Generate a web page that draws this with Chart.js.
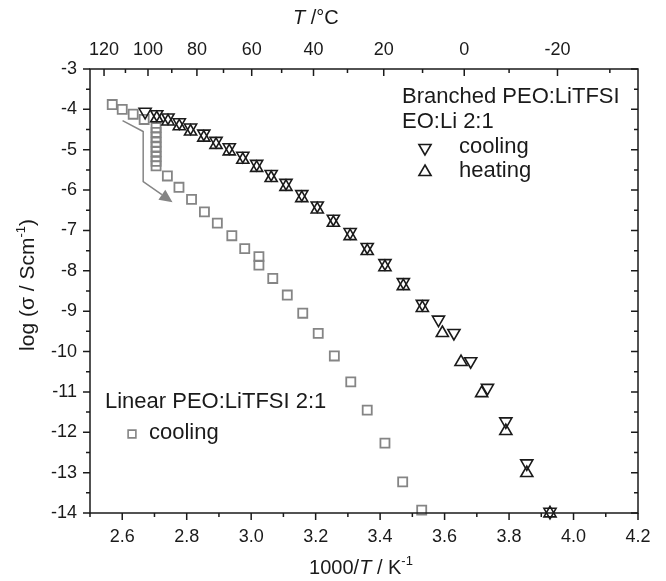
<!DOCTYPE html>
<html>
<head>
<meta charset="utf-8">
<script src="https://cdn.jsdelivr.net/npm/chart.js@4.4.1/dist/chart.umd.min.js"></script>
<style>
  body { margin: 0; background: #fff; }
  #wrap { width: 666px; height: 581px; position: relative; }
</style>
</head>
<body>
<div id="wrap"><canvas id="myChart"></canvas></div>
<script>
// linear PEO:LiTFSI 2:1, cooling (squares)
var linearX = [2.569, 2.600, 2.634, 2.668,
               2.705, 2.705, 2.705, 2.705, 2.705, 2.705, 2.705, 2.705, 2.705,
               2.740, 2.776, 2.815, 2.855, 2.895, 2.940, 2.980, 3.024, 3.024,
               3.067, 3.112, 3.160, 3.208, 3.258, 3.309, 3.360, 3.415, 3.470, 3.529];
var linearY = [-3.88, -4.00, -4.12, -4.25,
               -4.45, -4.57, -4.69, -4.81, -4.93, -5.05, -5.17, -5.29, -5.40,
               -5.65, -5.93, -6.23, -6.54, -6.82, -7.13, -7.45, -7.65, -7.86,
               -8.19, -8.60, -9.05, -9.55, -10.11, -10.75, -11.45, -12.27, -13.23, -13.93];

// branched PEO:LiTFSI, cooling (down triangles)
var coolX = [2.671, 2.707, 2.742, 2.777, 2.812, 2.853, 2.891, 2.932, 2.974, 3.017, 3.062,
             3.108, 3.157, 3.205, 3.255, 3.307, 3.360, 3.415, 3.472, 3.531, 3.581, 3.629,
             3.681, 3.733, 3.790, 3.855, 3.927];
var coolY = [-4.06, -4.12, -4.20, -4.32, -4.45, -4.60, -4.78, -4.94, -5.15, -5.35, -5.60,
             -5.82, -6.10, -6.38, -6.71, -7.04, -7.41, -7.81, -8.28, -8.82, -9.21, -9.54,
             -10.24, -10.90, -11.73, -12.77, -13.97];

// branched PEO:LiTFSI, heating (up triangles)
var heatX = [2.707, 2.742, 2.777, 2.812, 2.853, 2.891, 2.932, 2.974, 3.017, 3.062,
             3.108, 3.157, 3.205, 3.255, 3.307, 3.360, 3.415, 3.472, 3.531, 3.593,
             3.651, 3.715, 3.790, 3.855, 3.927];
var heatY = [-4.22, -4.30, -4.42, -4.55, -4.70, -4.88, -5.04, -5.25, -5.45, -5.70,
             -5.92, -6.20, -6.48, -6.81, -7.14, -7.51, -7.91, -8.38, -8.92, -9.54,
             -10.26, -11.03, -11.97, -13.01, -14.01];

// top axis in degrees C
var topTicksC = [120, 110, 100, 90, 80, 70, 60, 50, 40, 30, 20, 10, 0, -10, -20, -30];
var topLabelsC = [120, 100, 80, 60, 40, 20, 0, -20];

// arrow path (data coords)
var arrowX = [2.601, 2.665, 2.665, 2.756];
var arrowY = [-4.28, -4.55, -5.79, -6.30];

var FONT = 'Liberation Sans, Arial, Helvetica, sans-serif';
var INK = '#1a1a1a';
var GREY = '#858585';

function toInv(c) { return 1000 / (c + 273.15); }
function toC(v) { return Math.round(1000 / v - 273.15); }
function pts(xs, ys) { return xs.map(function (x, i) { return { x: x, y: ys[i] }; }); }
function isWhole(v) { return Math.abs(v - Math.round(v)) < 1e-6; }
function isEvenTenth(v) { var t = Math.round(v * 10); return Math.abs(v * 10 - t) < 1e-6 && t % 2 === 0; }

// draws a row of text pieces with their own fonts / offsets
function drawRuns(ctx, runs, x, y, align) {
  var total = 0;
  runs.forEach(function (r) { ctx.font = r.font; r.w = ctx.measureText(r.text).width; total += r.w; });
  var cx = align === 'center' ? x - total / 2 : x;
  ctx.textAlign = 'left';
  ctx.textBaseline = 'middle';
  runs.forEach(function (r) {
    ctx.font = r.font;
    ctx.fillText(r.text, cx, y + (r.dy || 0));
    cx += r.w;
  });
}

function marker(ctx, style, rot, r, x, y, color, lw) {
  ctx.save();
  ctx.strokeStyle = color;
  ctx.fillStyle = 'rgba(0,0,0,0)';
  ctx.lineWidth = lw;
  Chart.helpers.drawPoint(ctx, { pointStyle: style, rotation: rot, radius: r, borderWidth: lw }, x, y);
  ctx.restore();
}

var decorations = {
  id: 'decorations',
  afterDatasetsDraw: function (chart) {
    var ctx = chart.ctx, a = chart.chartArea;
    var sx = chart.scales.x, sy = chart.scales.y, st = chart.scales.x2;
    ctx.save();

    // frame + tick marks
    ctx.strokeStyle = INK;
    ctx.lineWidth = 1.5;
    ctx.strokeRect(a.left, a.top, a.right - a.left, a.bottom - a.top);
    ctx.beginPath();
    sx.ticks.forEach(function (t) {
      var px = sx.getPixelForValue(t.value);
      var len = isEvenTenth(t.value) ? 7 : 4;
      ctx.moveTo(px, a.bottom); ctx.lineTo(px, a.bottom + len);
    });
    sy.ticks.forEach(function (t) {
      var py = sy.getPixelForValue(t.value);
      var len = isWhole(t.value) ? 7 : 4;
      ctx.moveTo(a.left - len, py); ctx.lineTo(a.left, py);
      ctx.moveTo(a.right, py); ctx.lineTo(a.right - len, py);
    });
    topTicksC.forEach(function (c) {
      var px = st.getPixelForValue(toInv(c));
      var len = c % 20 === 0 ? 7 : 4;
      ctx.moveTo(px, a.top); ctx.lineTo(px, a.top + len);
    });
    ctx.stroke();

    // arrow
    var p = arrowX.map(function (x, i) { return [sx.getPixelForValue(x), sy.getPixelForValue(arrowY[i])]; });
    ctx.strokeStyle = GREY;
    ctx.fillStyle = GREY;
    ctx.lineWidth = 1.5;
    ctx.beginPath();
    ctx.moveTo(p[0][0], p[0][1]);
    for (var i = 1; i < p.length - 1; i++) ctx.lineTo(p[i][0], p[i][1]);
    var tip = p[p.length - 1], prev = p[p.length - 2];
    var ang = Math.atan2(tip[1] - prev[1], tip[0] - prev[0]);
    var hl = 13, hw = 6;
    var bx = tip[0] - hl * Math.cos(ang), by = tip[1] - hl * Math.sin(ang);
    ctx.lineTo(bx, by);
    ctx.stroke();
    ctx.beginPath();
    ctx.moveTo(tip[0], tip[1]);
    ctx.lineTo(bx + hw * Math.sin(ang), by - hw * Math.cos(ang));
    ctx.lineTo(bx - hw * Math.sin(ang), by + hw * Math.cos(ang));
    ctx.closePath();
    ctx.fill();

    // in-plot labels
    ctx.fillStyle = INK;
    var f22 = '22px ' + FONT;
    drawRuns(ctx, [{ text: 'Branched PEO:LiTFSI', font: f22 }], 402, 97, 'left');
    drawRuns(ctx, [{ text: 'EO:Li 2:1', font: f22 }], 402, 122, 'left');
    drawRuns(ctx, [{ text: 'cooling', font: f22 }], 459, 147, 'left');
    drawRuns(ctx, [{ text: 'heating', font: f22 }], 459, 171, 'left');
    marker(ctx, 'triangle', 180, 7, 425, 148, INK, 1.6);
    marker(ctx, 'triangle', 0, 7, 425, 172, INK, 1.6);
    drawRuns(ctx, [{ text: 'Linear PEO:LiTFSI 2:1', font: f22 }], 105, 402, 'left');
    drawRuns(ctx, [{ text: 'cooling', font: f22 }], 149, 433, 'left');
    marker(ctx, 'rect', 0, 5.5, 132, 434, GREY, 1.6);

    // axis titles
    var f20 = '20px ' + FONT, f20i = 'italic 20px ' + FONT, sup = '13px ' + FONT;
    var f21 = '21px ' + FONT;
    drawRuns(ctx, [{ text: 'T', font: f20i }, { text: ' /\u00B0C', font: f20 }], 293, 18, 'left');
    drawRuns(ctx, [
      { text: '1000/', font: f20 }, { text: 'T', font: f20i }, { text: ' / K', font: f20 },
      { text: '-1', font: sup, dy: -7 }
    ], 361, 568, 'center');
    ctx.translate(28, 285);
    ctx.rotate(-Math.PI / 2);
    drawRuns(ctx, [
      { text: 'log (\u03C3 / Scm', font: f21 }, { text: '-1', font: sup, dy: -7 }, { text: ')', font: f21 }
    ], 0, 0, 'center');
    ctx.restore();
  }
};

var tickFont = { family: FONT, size: 18 };

new Chart(document.getElementById('myChart').getContext('2d'), {
  type: 'scatter',
  data: {
    datasets: [{
      label: 'Branched, heating',
      data: pts(heatX, heatY),
      pointStyle: 'triangle',
      rotation: 0,
      pointRadius: 7,
      borderColor: INK,
      backgroundColor: 'rgba(0,0,0,0)',
      borderWidth: 1.6,
      clip: false
    }, {
      label: 'Branched, cooling',
      data: pts(coolX, coolY),
      pointStyle: 'triangle',
      rotation: 180,
      pointRadius: 7,
      borderColor: INK,
      backgroundColor: 'rgba(0,0,0,0)',
      borderWidth: 1.6,
      clip: false
    }, {
      label: 'Linear, cooling',
      data: pts(linearX, linearY),
      pointStyle: 'rect',
      pointRadius: 6.4,
      borderColor: GREY,
      backgroundColor: 'rgba(0,0,0,0)',
      borderWidth: 1.8,
      clip: false
    }]
  },
  options: {
    responsive: true,
    maintainAspectRatio: false,
    animation: false,
    events: [],
    layout: { padding: { left: 0, right: 28, top: 0, bottom: 0 } },
    plugins: { legend: { display: false }, tooltip: { enabled: false } },
    scales: {
      x: {
        type: 'linear', position: 'bottom', min: 2.5, max: 4.2,
        grid: { display: false, drawTicks: false },
        border: { display: false },
        ticks: {
          stepSize: 0.1, autoSkip: false, maxRotation: 0, padding: 13,
          color: INK, font: tickFont,
          callback: function (v) { return isEvenTenth(v) ? v.toFixed(1) : ''; }
        },
        afterFit: function (s) { s.height = 68; }
      },
      x2: {
        type: 'linear', position: 'top', min: 2.5, max: 4.2,
        grid: { display: false, drawTicks: false },
        border: { display: false },
        afterBuildTicks: function (s) {
          s.ticks = topLabelsC.map(function (c) { return { value: toInv(c) }; });
        },
        ticks: {
          autoSkip: false, maxRotation: 0, padding: 8,
          color: INK, font: tickFont,
          callback: function (v) { return String(toC(v)); }
        },
        afterFit: function (s) { s.height = 69; }
      },
      y: {
        type: 'linear', min: -14, max: -3,
        grid: { display: false, drawTicks: false },
        border: { display: false },
        ticks: {
          stepSize: 0.5, autoSkip: false, padding: 13,
          color: INK, font: tickFont,
          callback: function (v) { return isWhole(v) ? String(Math.round(v)) : ''; }
        },
        afterFit: function (s) { s.width = 90; }
      }
    }
  },
  plugins: [decorations]
});
</script>
</body>
</html>
